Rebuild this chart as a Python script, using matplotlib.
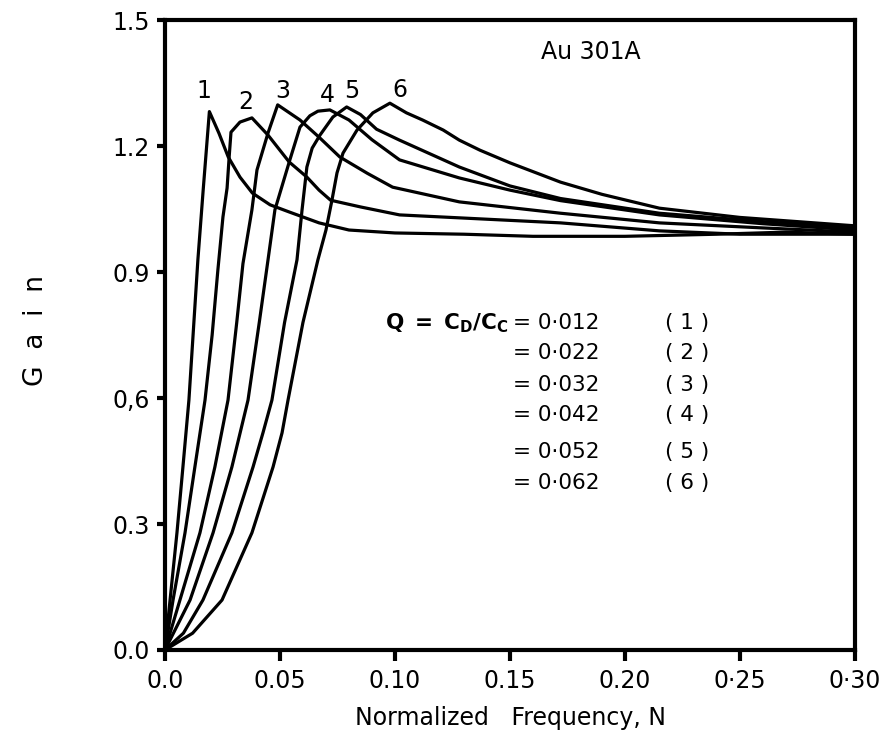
import matplotlib
matplotlib.use("Agg")
import matplotlib.pyplot as plt

plt.rcParams['mathtext.fontset'] = 'dejavusans'

# gain curves, x = normalized frequency N
x1 = [0, 0.0022, 0.0052, 0.0078, 0.0104, 0.0143, 0.0166, 0.0193, 0.0235, 0.0275, 0.0326, 0.038,
      0.0457, 0.054, 0.067, 0.08, 0.10, 0.13, 0.16, 0.20, 0.24, 0.27, 0.30]
g1 = [0, 0.119, 0.279, 0.436, 0.595, 0.929, 1.095, 1.282, 1.23, 1.174, 1.126, 1.088,
      1.06, 1.043, 1.017, 1.0, 0.993, 0.99, 0.985, 0.985, 0.99, 0.995, 0.99]

x2 = [0, 0.0035, 0.0087, 0.013, 0.0174, 0.0205, 0.023, 0.0252, 0.0270, 0.0279, 0.0287, 0.0326,
      0.0378, 0.0448, 0.054, 0.0617, 0.067, 0.072, 0.085, 0.102, 0.128, 0.172, 0.215, 0.25, 0.30]
g2 = [0, 0.119, 0.279, 0.436, 0.595, 0.75, 0.905, 1.031, 1.10, 1.174, 1.233, 1.257,
      1.267, 1.226, 1.162, 1.126, 1.095, 1.071, 1.055, 1.036, 1.029, 1.017, 0.998, 0.99, 0.99]

x3 = [0, 0.0065, 0.0152, 0.0217, 0.0274, 0.0312, 0.0339, 0.0378, 0.040, 0.0448, 0.049, 0.0587,
      0.067, 0.076, 0.088, 0.099, 0.128, 0.172, 0.215, 0.26, 0.30]
g3 = [0, 0.119, 0.279, 0.436, 0.595, 0.78, 0.92, 1.048, 1.143, 1.231, 1.298, 1.262,
      1.221, 1.174, 1.135, 1.102, 1.067, 1.04, 1.017, 1.005, 0.995]

x4 = [0, 0.0109, 0.0209, 0.0291, 0.0361, 0.041, 0.0448, 0.0478, 0.0543, 0.0587, 0.063, 0.0665,
      0.0717, 0.08, 0.09, 0.102, 0.128, 0.15, 0.172, 0.215, 0.26, 0.30]
g4 = [0, 0.119, 0.279, 0.436, 0.595, 0.78, 0.929, 1.048, 1.167, 1.245, 1.272, 1.283,
      1.286, 1.262, 1.215, 1.167, 1.124, 1.095, 1.07, 1.036, 1.015, 1.0]

x5 = [0, 0.008, 0.0165, 0.0291, 0.0383, 0.0426, 0.0465, 0.052, 0.0574, 0.0596, 0.0617, 0.064,
      0.0674, 0.073, 0.079, 0.085, 0.092, 0.102, 0.128, 0.15, 0.172, 0.215, 0.26, 0.30]
g5 = [0, 0.04, 0.119, 0.279, 0.436, 0.517, 0.595, 0.78, 0.929, 1.048, 1.150, 1.195,
      1.226, 1.269, 1.293, 1.275, 1.24, 1.214, 1.15, 1.105, 1.075, 1.04, 1.02, 1.005]

x6 = [0, 0.012, 0.0248, 0.0378, 0.047, 0.0509, 0.0535, 0.060, 0.0665, 0.070, 0.0726, 0.0748,
      0.0774, 0.0835, 0.0904, 0.0978, 0.105, 0.112, 0.121, 0.128, 0.137, 0.15, 0.172, 0.19,
      0.215, 0.25, 0.30]
g6 = [0, 0.04, 0.119, 0.279, 0.436, 0.517, 0.595, 0.78, 0.929, 1.0, 1.071, 1.136,
      1.183, 1.238, 1.279, 1.302, 1.279, 1.262, 1.238, 1.214, 1.19, 1.16, 1.114, 1.085,
      1.052, 1.03, 1.01]

curves = [(x1, g1), (x2, g2), (x3, g3), (x4, g4), (x5, g5), (x6, g6)]
curve_ids = ["1", "2", "3", "4", "5", "6"]
q_values = ["0·012", "0·022", "0·032", "0·042", "0·052", "0·062"]

xticks = [0.0, 0.05, 0.10, 0.15, 0.20, 0.25, 0.30]
xticklabels = ["0.0", "0.05", "0.10", "0.15", "0.20", "0·25", "0·30"]
yticks = [0.0, 0.3, 0.6, 0.9, 1.2, 1.5]
yticklabels = ["0.0", "0.3", "0,6", "0.9", "1.2", "1.5"]

fig = plt.figure(figsize=(8.89, 7.42), dpi=100)
fig.patch.set_facecolor("w")
ax = fig.add_axes([0.1856, 0.124, 0.776, 0.849])

for x, g in curves:
    ax.plot(x, g, color="k", lw=2.3, solid_joinstyle="round", solid_capstyle="round")

# curve numbers above the peaks
lab_pos = [(0.017, 1.33), (0.035, 1.305), (0.051, 1.33), (0.0704, 1.322), (0.081, 1.33), (0.102, 1.333)]
for (lx, ly), c in zip(lab_pos, curve_ids):
    ax.text(lx, ly, c, ha="center", va="center", fontsize=17)

ax.text(0.185, 1.424, "Au 301A", ha="center", va="center", fontsize=17)

# Q legend block
rows_y = [0.779, 0.707, 0.631, 0.560, 0.471, 0.398]
ax.text(0.1495, rows_y[0], r"$\mathbf{Q\ =\ C_D/C_C}$", ha="right", va="center", fontsize=15.5)
for i, (ry, q) in enumerate(zip(rows_y, q_values)):
    ax.text(0.1513, ry, "= " + q, ha="left", va="center", fontsize=15.5)
    ax.text(0.2174, ry, "( %s )" % curve_ids[i], ha="left", va="center", fontsize=15.5)

ax.set_xlim(0, 0.30)
ax.set_ylim(0, 1.5)
ax.set_xticks(xticks)
ax.set_xticklabels(xticklabels, fontsize=17)
ax.set_yticks(yticks)
ax.set_yticklabels(yticklabels, fontsize=17)
ax.tick_params(axis="x", direction="out", length=8, width=3, pad=6)
ax.tick_params(axis="y", direction="out", length=6, width=3, pad=5)
for s in ax.spines.values():
    s.set_linewidth(3)

fig.text(0.574, 0.032, "Normalized   Frequency, N", ha="center", va="center", fontsize=17)
fig.text(0.04, 0.555, "G  a  i  n", ha="center", va="center", rotation=90, fontsize=19)

fig.savefig("out.png", dpi=100)
